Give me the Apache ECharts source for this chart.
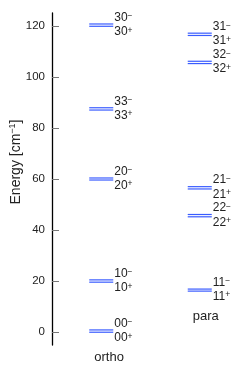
<!DOCTYPE html>
<html>
<head>
<meta charset="utf-8">
<script src="https://cdn.jsdelivr.net/npm/echarts@6/dist/echarts.min.js"></script>
<style>html,body{margin:0;padding:0;background:#fff}#c{width:249px;height:367px}</style>
</head>
<body>
<div id="c"></div>
<script>
const groups = ['ortho', 'para'];
const orthoNames = ['00', '10', '20', '33', '30'];
const orthoMinus = [0.9, 20.5, 60.4, 87.9, 120.7];
const orthoPlus  = [0.0, 19.6, 59.6, 87.0, 119.8];
const paraNames = ['11', '22', '21', '32', '31'];
const paraMinus = [16.9, 46.1, 57.0, 106.1, 117.1];
const paraPlus  = [16.1, 45.2, 56.1, 105.2, 116.2];
const yTicks = [0, 20, 40, 60, 80, 100, 120];

const FONT = 'Liberation Sans, Arial, Helvetica, sans-serif';
const BLUE = '#3a5cff';

const levels = [];
orthoNames.forEach((n, i) => levels.push({ cat: 0, name: n, minus: orthoMinus[i], plus: orthoPlus[i] }));
paraNames.forEach((n, i) => levels.push({ cat: 1, name: n, minus: paraMinus[i], plus: paraPlus[i] }));

const groupLabels = groups.map((g, gi) => {
  const lows = levels.filter(l => l.cat === gi).map(l => l.plus);
  return [gi, Math.min.apply(null, lows)];
});

const rich = {
  b: { fontSize: 12, fontFamily: FONT, fill: '#222', lineHeight: 12 },
  s: { fontSize: 8.5, fontFamily: FONT, fill: '#222', lineHeight: 8, verticalAlign: 'top' }
};

function renderLevel(params, api) {
  const lv = levels[params.dataIndex];
  const pm = api.coord([api.value(0), api.value(1)]);
  const pp = api.coord([api.value(0), api.value(2)]);
  const band = api.size([1, 0])[0];
  const half = band * 0.122;
  const x1 = pm[0] - half, x2 = pm[0] + half;
  return {
    type: 'group',
    children: [
      { type: 'line', shape: { x1: x1, y1: pm[1], x2: x2, y2: pm[1] }, style: { stroke: BLUE, lineWidth: 1.2 } },
      { type: 'line', shape: { x1: x1, y1: pp[1], x2: x2, y2: pp[1] }, style: { stroke: BLUE, lineWidth: 1.2 } },
      { type: 'text', style: { text: '{b|' + lv.name + '}{s|−}', rich: rich, x: x2 + 1, y: pm[1] - 6.5, align: 'left', verticalAlign: 'middle' } },
      { type: 'text', style: { text: '{b|' + lv.name + '}{s|+}', rich: rich, x: x2 + 1, y: pp[1] + 5.5, align: 'left', verticalAlign: 'middle' } }
    ]
  };
}

function renderGroupLabel(params, api) {
  const p = api.coord([api.value(0), api.value(1)]);
  const band = api.size([1, 0])[0];
  const x1 = p[0] - band * 0.122;
  return {
    type: 'text',
    style: { text: groups[params.dataIndex], x: x1 + 5, y: p[1] + 25, align: 'left', verticalAlign: 'middle', fontSize: 13, fontFamily: FONT, fill: '#222' }
  };
}

const chart = echarts.init(document.getElementById('c'), null, { renderer: 'canvas' });
chart.setOption({
  animation: false,
  grid: { left: 52, top: 13, bottom: 22, width: 205 },
  xAxis: {
    type: 'category', data: groups, show: false
  },
  yAxis: {
    type: 'value', min: -5, max: 125,
    axisLine: { show: true, lineStyle: { color: '#000', width: 1.3 } },
    axisTick: { show: true, inside: true, length: 7, customValues: yTicks, lineStyle: { color: '#777', width: 1 } },
    axisLabel: { customValues: yTicks, margin: 7, fontSize: 11.5, fontFamily: FONT, color: '#222' },
    splitLine: { show: false }
  },
  graphic: [{
    type: 'text', x: 16, y: 162, rotation: Math.PI / 2,
    style: {
      text: '{b|Energy [cm}{s|−1}{b|]}', align: 'center', verticalAlign: 'middle',
      rich: {
        b: { fontSize: 14, fontFamily: FONT, fill: '#222', lineHeight: 15 },
        s: { fontSize: 9, fontFamily: FONT, fill: '#222', lineHeight: 9, verticalAlign: 'top' }
      }
    }
  }],
  series: [
    { type: 'custom', renderItem: renderLevel, clip: false, data: levels.map(l => [l.cat, l.minus, l.plus]) },
    { type: 'custom', renderItem: renderGroupLabel, clip: false, data: groupLabels }
  ]
});
</script>
</body>
</html>
